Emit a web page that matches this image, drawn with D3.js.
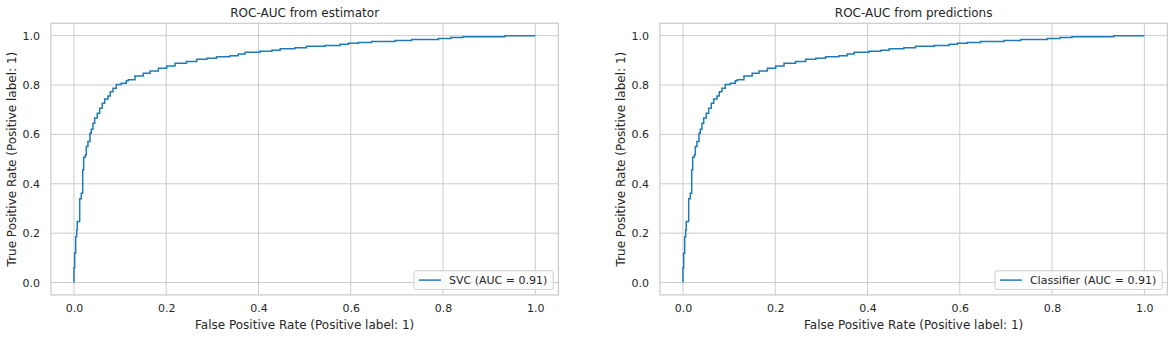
<!DOCTYPE html>
<html>
<head>
<meta charset="utf-8">
<script src="https://cdn.jsdelivr.net/npm/d3@7"></script>
<style>
  html, body { margin: 0; padding: 0; background: #ffffff; }
  svg { display: block; font-family: "DejaVu Sans", sans-serif; }
</style>
</head>
<body>
<svg id="chart" width="1174" height="338"></svg>
<script>
// ROC curve (step corners): false positive rate / true positive rate
const fpr = [0, 0, 0.0015, 0.0037, 0.0059, 0.0072, 0.0124, 0.0158, 0.0189, 0.021, 0.0245,
  0.0267, 0.0303, 0.0347, 0.0375, 0.0412, 0.0449, 0.0505, 0.0557, 0.0613, 0.0666,
  0.0737, 0.0787, 0.0845, 0.0917, 0.1025, 0.1134, 0.1177, 0.1322, 0.150, 0.165,
  0.183, 0.201, 0.219, 0.244, 0.266, 0.288, 0.309, 0.338, 0.356, 0.371,
  0.403, 0.429, 0.447, 0.479, 0.504, 0.544, 0.577, 0.595, 0.616, 0.645,
  0.696, 0.732, 0.790, 0.817, 0.843, 0.934, 1.0];
const tpr = [0, 0.06, 0.119, 0.186, 0.213, 0.247, 0.339, 0.362, 0.456, 0.508, 0.517,
  0.551, 0.571, 0.605, 0.621, 0.645, 0.666, 0.686, 0.706, 0.726, 0.743,
  0.756, 0.773, 0.787, 0.802, 0.807, 0.817, 0.821, 0.837, 0.848, 0.857,
  0.868, 0.877, 0.888, 0.895, 0.904, 0.908, 0.915, 0.919, 0.926, 0.933,
  0.937, 0.941, 0.947, 0.951, 0.957, 0.960, 0.965, 0.969, 0.972, 0.976,
  0.980, 0.984, 0.988, 0.992, 0.996, 1.0, 1.0];

const tickValues = [0.0, 0.2, 0.4, 0.6, 0.8, 1.0];
const panelTitles = ["ROC-AUC from estimator", "ROC-AUC from predictions"];
const legendLabels = ["SVC (AUC = 0.91)", "Classifier (AUC = 0.91)"];
const xLabel = "False Positive Rate (Positive label: 1)";
const yLabel = "True Positive Rate (Positive label: 1)";

const svg = d3.select("#chart");
const panels = [
  { x0: 50.9, x1: 558.4 },
  { x0: 659.9, x1: 1167.4 }
];
const yTop = 23.3, yBottom = 294.9;
const grid = "#cccccc", ink = "#262626", lineColor = "#1f7ab8";

const points = fpr.map((f, i) => [f, tpr[i]]);

panels.forEach((p, k) => {
  const x = d3.scaleLinear().domain([-0.05, 1.05]).range([p.x0, p.x1]);
  const y = d3.scaleLinear().domain([-0.05, 1.05]).range([yBottom, yTop]);
  const g = svg.append("g");

  // gridlines
  g.append("g").selectAll("line").data(tickValues).join("line")
    .attr("x1", d => x(d)).attr("x2", d => x(d))
    .attr("y1", yTop).attr("y2", yBottom)
    .attr("stroke", grid).attr("stroke-width", 1);
  g.append("g").selectAll("line").data(tickValues).join("line")
    .attr("x1", p.x0).attr("x2", p.x1)
    .attr("y1", d => y(d)).attr("y2", d => y(d))
    .attr("stroke", grid).attr("stroke-width", 1);

  // axes (labels only, no tick marks)
  const xAxis = g.append("g").attr("transform", `translate(0,${yBottom})`)
    .call(d3.axisBottom(x).tickValues(tickValues).tickFormat(d3.format(".1f")).tickSize(0).tickPadding(9));
  const yAxis = g.append("g").attr("transform", `translate(${p.x0},0)`)
    .call(d3.axisLeft(y).tickValues(tickValues).tickFormat(d3.format(".1f")).tickSize(0).tickPadding(11));
  [xAxis, yAxis].forEach(a => {
    a.select(".domain").remove();
    a.selectAll("text").attr("fill", ink).style("font-size", "11px")
      .style("font-family", "DejaVu Sans, sans-serif");
  });

  // frame
  g.append("rect").attr("x", p.x0).attr("y", yTop)
    .attr("width", p.x1 - p.x0).attr("height", yBottom - yTop)
    .attr("fill", "none").attr("stroke", grid).attr("stroke-width", 1.25);

  // ROC curve
  const line = d3.line().x(d => x(d[0])).y(d => y(d[1])).curve(d3.curveStepAfter);
  g.append("path").datum(points).attr("d", line)
    .attr("fill", "none").attr("stroke", lineColor).attr("stroke-width", 1.5);

  // title and axis labels
  const cx = (p.x0 + p.x1) / 2;
  g.append("text").attr("x", cx).attr("y", 17).attr("text-anchor", "middle")
    .attr("fill", ink).style("font-size", "12px").text(panelTitles[k]);
  g.append("text").attr("x", cx).attr("y", 328.5).attr("text-anchor", "middle")
    .attr("fill", ink).style("font-size", "12px").text(xLabel);
  g.append("text").attr("transform", `translate(${p.x0 - 39.3},${(yTop + yBottom) / 2}) rotate(-90)`)
    .attr("text-anchor", "middle").attr("dominant-baseline", "central")
    .attr("fill", ink).style("font-size", "12px").text(yLabel);

  // legend
  const lg = g.append("g");
  const box = lg.append("rect");
  const label = lg.append("text").attr("fill", ink).style("font-size", "11px").text(legendLabels[k]);
  const tw = label.node().getComputedTextLength();
  const bw = 5 + 22 + 8 + tw + 6, bh = 18.6;
  const bx = p.x1 - 5.2 - bw, by = yBottom - 5.5 - bh;
  box.attr("x", bx).attr("y", by).attr("width", bw).attr("height", bh)
    .attr("rx", 2).attr("fill", "#ffffff").attr("fill-opacity", 0.8)
    .attr("stroke", grid).attr("stroke-width", 1);
  lg.append("line").attr("x1", bx + 5).attr("x2", bx + 27)
    .attr("y1", by + bh / 2).attr("y2", by + bh / 2)
    .attr("stroke", lineColor).attr("stroke-width", 1.5);
  label.attr("x", bx + 35).attr("y", by + bh / 2 + 4);
});
</script>
</body>
</html>
